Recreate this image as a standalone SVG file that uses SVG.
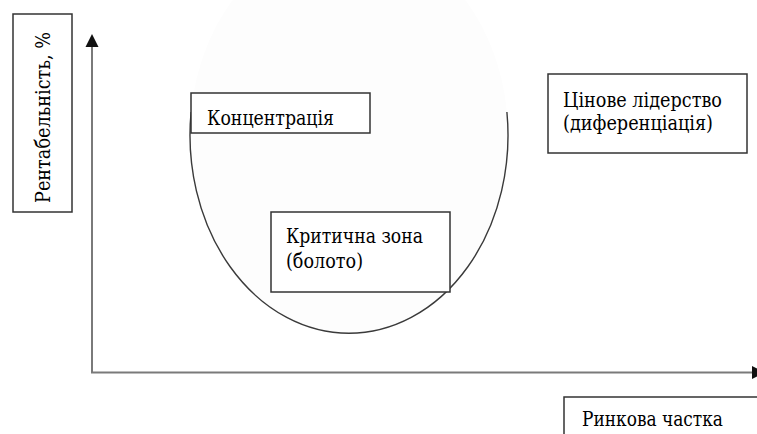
<svg xmlns="http://www.w3.org/2000/svg" width="757" height="434" viewBox="0 0 757 434">
  <style>
    .box { fill: #ffffff; stroke: #333333; stroke-width: 1.5; }
    .lbl { font-family: "DejaVu Serif", "Liberation Serif", serif; font-size: 20px; fill: #000000; }
    .axis { stroke: #7a7a7a; stroke-width: 2; fill: none; }
    .head { fill: #111111; }
  </style>
  <rect x="0" y="0" width="757" height="434" fill="#ffffff"/>
  <g id="zone-ellipse">
    <ellipse cx="349" cy="135" rx="159" ry="198" fill="#fdfdfd" stroke="none"/>
    <path d="M 506.9 112 A 159 198 0 1 1 191.1 112" fill="none" stroke="#3a3a3a" stroke-width="1.4"/>
  </g>
  <g id="connectors">
    <line class="axis" x1="92" y1="47" x2="92" y2="372.5"/>
    <polygon class="head" points="92,34 85.5,47 98.5,47"/>
    <line class="axis" x1="91" y1="372.5" x2="752" y2="372.5"/>
    <polygon class="head" points="765,372.5 752,366 752,379"/>
  </g>
  <g id="node-y-label">
    <rect class="box" x="13" y="14" width="59" height="198"/>
    <text class="lbl" transform="translate(50,203) rotate(-90)" x="0" y="0" textLength="171" lengthAdjust="spacingAndGlyphs">Рентабельність, %</text>
  </g>
  <g id="node-concentration">
    <rect class="box" x="191" y="93" width="179" height="40"/>
    <text class="lbl" x="207" y="125" textLength="127" lengthAdjust="spacingAndGlyphs">Концентрація</text>
  </g>
  <g id="node-leadership">
    <rect class="box" x="548" y="74" width="199" height="79"/>
    <text class="lbl" x="563" y="107" textLength="159" lengthAdjust="spacingAndGlyphs">Цінове лідерство</text>
    <text class="lbl" x="563" y="130" textLength="150" lengthAdjust="spacingAndGlyphs">(диференціація)</text>
  </g>
  <g id="node-critical">
    <rect class="box" x="271" y="212" width="179" height="80"/>
    <text class="lbl" x="286" y="243" textLength="137" lengthAdjust="spacingAndGlyphs">Критична зона</text>
    <text class="lbl" x="286" y="268" textLength="77" lengthAdjust="spacingAndGlyphs">(болото)</text>
  </g>
  <g id="node-x-label">
    <rect class="box" x="564" y="397" width="200" height="50"/>
    <text class="lbl" x="582" y="426" textLength="141" lengthAdjust="spacingAndGlyphs">Ринкова частка</text>
  </g>
</svg>
